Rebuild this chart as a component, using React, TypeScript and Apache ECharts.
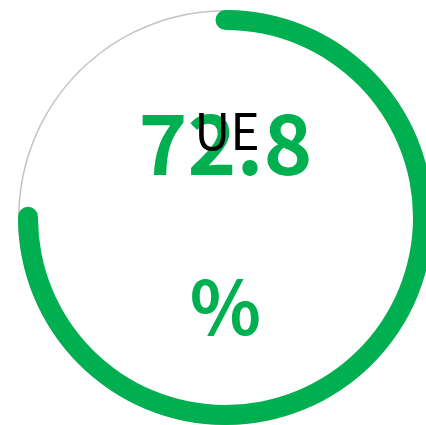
import React, { useEffect, useRef } from "react";
import * as echarts from "echarts";

const seriesName = "UE";
const seriesValue = 72.8;
const gaugeMax = 97;
const unitLabel = "%";

const GREEN = "#00b050";
const FONT = "'Noto Sans CJK SC', 'Noto Sans', sans-serif";

const hidden = {
  pointer: { show: false },
  axisTick: { show: false },
  splitLine: { show: false },
  axisLabel: { show: false },
};

export default function App() {
  const ref = useRef<HTMLDivElement>(null);
  useEffect(() => {
    if (!ref.current) return;
    const chart = echarts.init(ref.current, null, { renderer: "svg" });
    chart.setOption({
      animation: false,
      backgroundColor: "#ffffff",
      series: [
        {
          type: "gauge",
          z: 2,
          center: [225.5, 217.5],
          radius: 207.5,
          startAngle: 90,
          endAngle: -270,
          min: 0,
          max: gaugeMax,
          axisLine: { show: true, lineStyle: { width: 1.5, color: [[1, "#c4c4c4"]] } },
          progress: { show: true, width: 20, roundCap: true, itemStyle: { color: GREEN } },
          ...hidden,
          title: { show: false },
          detail: {
            show: true,
            offsetCenter: [0, 3],
            formatter: (v: number) => `{v|${v}}\n{u|${unitLabel}}`,
            rich: {
              v: { fontSize: 83, fontWeight: "bold", color: GREEN, lineHeight: 163, fontFamily: FONT },
              u: { fontSize: 74, fontWeight: "bold", color: GREEN, lineHeight: 163, fontFamily: FONT },
            },
          },
          data: [{ value: seriesValue, name: seriesName }],
        },
        {
          type: "gauge",
          z: 5,
          center: [225.5, 217.5],
          radius: 207.5,
          startAngle: 90,
          endAngle: -270,
          min: 0,
          max: gaugeMax,
          axisLine: { show: false },
          progress: { show: false },
          ...hidden,
          title: {
            show: true,
            offsetCenter: [1.5, -90],
            fontSize: 50,
            color: "#000000",
            fontFamily: FONT,
          },
          detail: { show: false },
          data: [{ value: seriesValue, name: seriesName }],
        },
      ],
    });
    return () => chart.dispose();
  }, []);
  return (
    <div
      ref={ref}
      style={{ position: "fixed", left: 0, top: 0, width: 426, height: 425 }}
    />
  );
}
